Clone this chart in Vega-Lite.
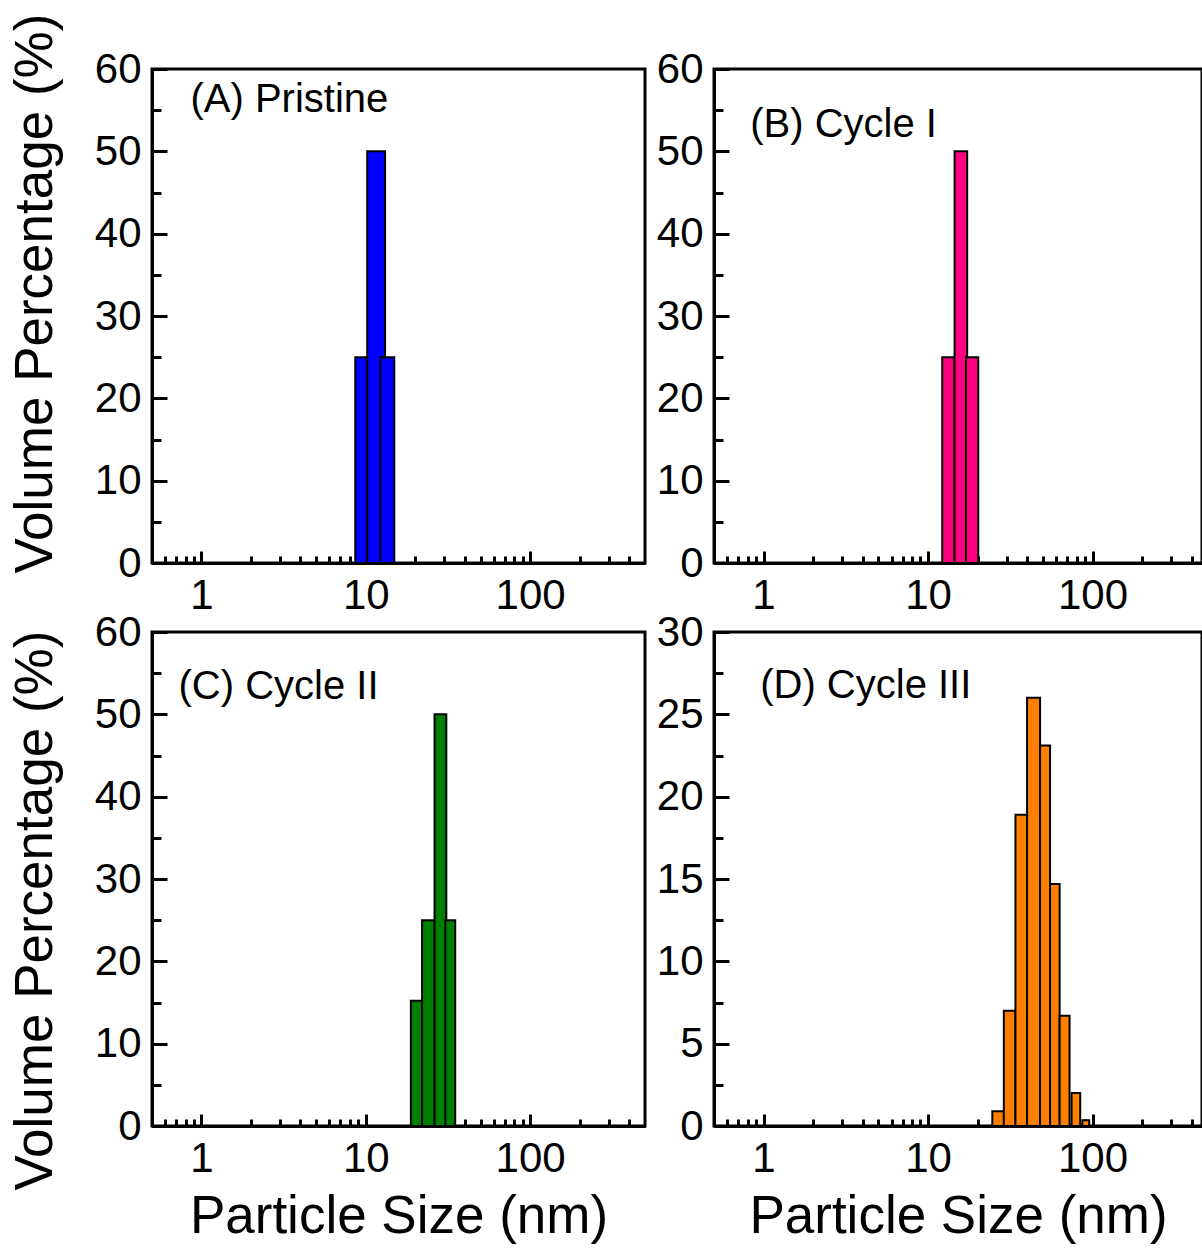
{
  "$schema": "https://vega.github.io/schema/vega-lite/v6.json",
  "padding": {"left": 7, "top": 11, "right": 0, "bottom": 0},
  "background": "white",
  "datasets": {
    "bars": [
      {"panel": "A", "x0": 8.63, "x1": 10.2, "pct": 25},
      {"panel": "A", "x0": 10.2, "x1": 13.1, "pct": 50},
      {"panel": "A", "x0": 12.25, "x1": 14.9, "pct": 25},
      {"panel": "B", "x0": 12.2, "x1": 14.5, "pct": 25},
      {"panel": "B", "x0": 14.5, "x1": 17.3, "pct": 50},
      {"panel": "B", "x0": 17.0, "x1": 20.2, "pct": 25},
      {"panel": "C", "x0": 18.8, "x1": 22.0, "pct": 15.2},
      {"panel": "C", "x0": 22.0, "x1": 26.2, "pct": 25},
      {"panel": "C", "x0": 26.2, "x1": 30.9, "pct": 50},
      {"panel": "C", "x0": 30.5, "x1": 35.0, "pct": 25},
      {"panel": "D", "x0": 24.6, "x1": 28.9, "pct": 0.9},
      {"panel": "D", "x0": 28.9, "x1": 34.0, "pct": 7.0},
      {"panel": "D", "x0": 34.0, "x1": 40.0, "pct": 18.9},
      {"panel": "D", "x0": 40.0, "x1": 48.0, "pct": 26.0},
      {"panel": "D", "x0": 48.0, "x1": 55.2, "pct": 23.1},
      {"panel": "D", "x0": 55.2, "x1": 63.1, "pct": 14.7},
      {"panel": "D", "x0": 63.1, "x1": 72.5, "pct": 6.7},
      {"panel": "D", "x0": 74.6, "x1": 84.2, "pct": 2.0},
      {"panel": "D", "x0": 86.7, "x1": 95.5, "pct": 0.35}
    ],
    "labels": [
      {"panel": "A", "label": "(A) Pristine"},
      {"panel": "B", "label": "(B) Cycle I"},
      {"panel": "C", "label": "(C) Cycle II"},
      {"panel": "D", "label": "(D) Cycle III"}
    ]
  },
  "config": {
    "view": {"stroke": "black", "strokeWidth": 3},
    "axis": {
      "domainColor": "black", "domainWidth": 3,
      "tickColor": "black", "tickWidth": 3,
      "labelFont": "Liberation Sans", "labelFontSize": 42, "labelColor": "black",
      "labelFlush": false, "labelOverlap": false, "labelBound": false,
      "grid": false,
      "titleFont": "Liberation Sans", "titleFontSize": 53, "titleFontWeight": "normal", "titleColor": "black",
      "zindex": 1
    },
    "text": {"font": "Liberation Sans", "fontSize": 40, "color": "black", "align": "left", "baseline": "middle"}
  },
  "columns": 2,
  "spacing": {"row": 69, "column": 69},
  "bounds": "flush",
  "concat": [
    {
      "width": 493, "height": 494,
      "layer": [
        {
          "data": {"name": "bars"},
          "transform": [{"filter": "datum.panel === 'A'"}],
          "mark": {"type": "bar", "fill": "#0000FF", "stroke": "black", "strokeWidth": 2},
          "encoding": {
            "x": {"field": "x0", "type": "quantitative", "scale": {"type": "log", "domain": [0.5, 500], "nice": false},
                  "axis": {"orient": "bottom", "values": [1, 10, 100], "format": "d", "tickSize": -12, "labelPadding": 24, "title": null}},
            "x2": {"field": "x1"},
            "y": {"field": "pct", "type": "quantitative", "scale": {"domain": [0, 60], "nice": false},
                  "axis": {"orient": "left", "values": [0, 10, 20, 30, 40, 50, 60], "format": "d", "tickSize": -15, "labelPadding": 26,
                           "title": "Volume Percentage (%)", "titleAngle": -90, "titleX": -117, "titleY": 224, "titleBaseline": "middle", "titleAlign": "center"}},
            "y2": {"datum": 0}
          }
        },
        {
          "data": {"name": "labels"},
          "transform": [{"filter": "datum.panel === 'A'"}],
          "mark": {"type": "text"},
          "encoding": {
            "x": {"datum": 0.857, "type": "quantitative",
                  "axis": {"orient": "bottom", "values": [0.6, 0.7, 0.8, 0.9, 2, 3, 4, 5, 6, 7, 8, 9, 20, 30, 40, 50, 60, 70, 80, 90, 200, 300, 400], "tickSize": -7, "labels": false, "domain": false, "title": null}},
            "y": {"datum": 56.2, "type": "quantitative",
                  "axis": {"orient": "left", "values": [5, 15, 25, 35, 45, 55], "tickSize": -9, "labels": false, "domain": false, "title": null}},
            "text": {"field": "label"}
          }
        }
      ],
      "resolve": {"axis": {"x": "independent", "y": "independent"}}
    },
    {
      "width": 488, "height": 494,
      "layer": [
        {
          "data": {"name": "bars"},
          "transform": [{"filter": "datum.panel === 'B'"}],
          "mark": {"type": "bar", "fill": "#FF0080", "stroke": "black", "strokeWidth": 2},
          "encoding": {
            "x": {"field": "x0", "type": "quantitative", "scale": {"type": "log", "domain": [0.5, 463], "nice": false},
                  "axis": {"orient": "bottom", "values": [1, 10, 100], "format": "d", "tickSize": -12, "labelPadding": 24, "title": null}},
            "x2": {"field": "x1"},
            "y": {"field": "pct", "type": "quantitative", "scale": {"domain": [0, 60], "nice": false},
                  "axis": {"orient": "left", "values": [0, 10, 20, 30, 40, 50, 60], "format": "d", "tickSize": -15, "labelPadding": 26, "title": null}},
            "y2": {"datum": 0}
          }
        },
        {
          "data": {"name": "labels"},
          "transform": [{"filter": "datum.panel === 'B'"}],
          "mark": {"type": "text"},
          "encoding": {
            "x": {"datum": 0.83, "type": "quantitative",
                  "axis": {"orient": "bottom", "values": [0.6, 0.7, 0.8, 0.9, 2, 3, 4, 5, 6, 7, 8, 9, 20, 30, 40, 50, 60, 70, 80, 90, 200, 300, 400], "tickSize": -7, "labels": false, "domain": false, "title": null}},
            "y": {"datum": 53.2, "type": "quantitative",
                  "axis": {"orient": "left", "values": [5, 15, 25, 35, 45, 55], "tickSize": -9, "labels": false, "domain": false, "title": null}},
            "text": {"field": "label"}
          }
        }
      ],
      "resolve": {"axis": {"x": "independent", "y": "independent"}}
    },
    {
      "width": 493, "height": 494,
      "layer": [
        {
          "data": {"name": "bars"},
          "transform": [{"filter": "datum.panel === 'C'"}],
          "mark": {"type": "bar", "fill": "#008000", "stroke": "black", "strokeWidth": 2},
          "encoding": {
            "x": {"field": "x0", "type": "quantitative", "scale": {"type": "log", "domain": [0.5, 500], "nice": false},
                  "axis": {"orient": "bottom", "values": [1, 10, 100], "format": "d", "tickSize": -12, "labelPadding": 24,
                           "title": "Particle Size (nm)", "titleY": 106, "titleBaseline": "alphabetic"}},
            "x2": {"field": "x1"},
            "y": {"field": "pct", "type": "quantitative", "scale": {"domain": [0, 60], "nice": false},
                  "axis": {"orient": "left", "values": [0, 10, 20, 30, 40, 50, 60], "format": "d", "tickSize": -15, "labelPadding": 26,
                           "title": "Volume Percentage (%)", "titleAngle": -90, "titleX": -117, "titleY": 278, "titleBaseline": "middle", "titleAlign": "center"}},
            "y2": {"datum": 0}
          }
        },
        {
          "data": {"name": "labels"},
          "transform": [{"filter": "datum.panel === 'C'"}],
          "mark": {"type": "text"},
          "encoding": {
            "x": {"datum": 0.725, "type": "quantitative",
                  "axis": {"orient": "bottom", "values": [0.6, 0.7, 0.8, 0.9, 2, 3, 4, 5, 6, 7, 8, 9, 20, 30, 40, 50, 60, 70, 80, 90, 200, 300, 400], "tickSize": -7, "labels": false, "domain": false, "title": null}},
            "y": {"datum": 53.3, "type": "quantitative",
                  "axis": {"orient": "left", "values": [5, 15, 25, 35, 45, 55], "tickSize": -9, "labels": false, "domain": false, "title": null}},
            "text": {"field": "label"}
          }
        }
      ],
      "resolve": {"axis": {"x": "independent", "y": "independent"}}
    },
    {
      "width": 488, "height": 494,
      "layer": [
        {
          "data": {"name": "bars"},
          "transform": [{"filter": "datum.panel === 'D'"}],
          "mark": {"type": "bar", "fill": "#FF8000", "stroke": "black", "strokeWidth": 2},
          "encoding": {
            "x": {"field": "x0", "type": "quantitative", "scale": {"type": "log", "domain": [0.5, 463], "nice": false},
                  "axis": {"orient": "bottom", "values": [1, 10, 100], "format": "d", "tickSize": -12, "labelPadding": 24,
                           "title": "Particle Size (nm)", "titleY": 106, "titleBaseline": "alphabetic"}},
            "x2": {"field": "x1"},
            "y": {"field": "pct", "type": "quantitative", "scale": {"domain": [0, 30], "nice": false},
                  "axis": {"orient": "left", "values": [0, 5, 10, 15, 20, 25, 30], "format": "d", "tickSize": -15, "labelPadding": 26, "title": null}},
            "y2": {"datum": 0}
          }
        },
        {
          "data": {"name": "labels"},
          "transform": [{"filter": "datum.panel === 'D'"}],
          "mark": {"type": "text"},
          "encoding": {
            "x": {"datum": 0.955, "type": "quantitative",
                  "axis": {"orient": "bottom", "values": [0.6, 0.7, 0.8, 0.9, 2, 3, 4, 5, 6, 7, 8, 9, 20, 30, 40, 50, 60, 70, 80, 90, 200, 300, 400], "tickSize": -7, "labels": false, "domain": false, "title": null}},
            "y": {"datum": 26.7, "type": "quantitative",
                  "axis": {"orient": "left", "values": [2.5, 7.5, 12.5, 17.5, 22.5, 27.5], "tickSize": -9, "labels": false, "domain": false, "title": null}},
            "text": {"field": "label"}
          }
        }
      ],
      "resolve": {"axis": {"x": "independent", "y": "independent"}}
    }
  ]
}
